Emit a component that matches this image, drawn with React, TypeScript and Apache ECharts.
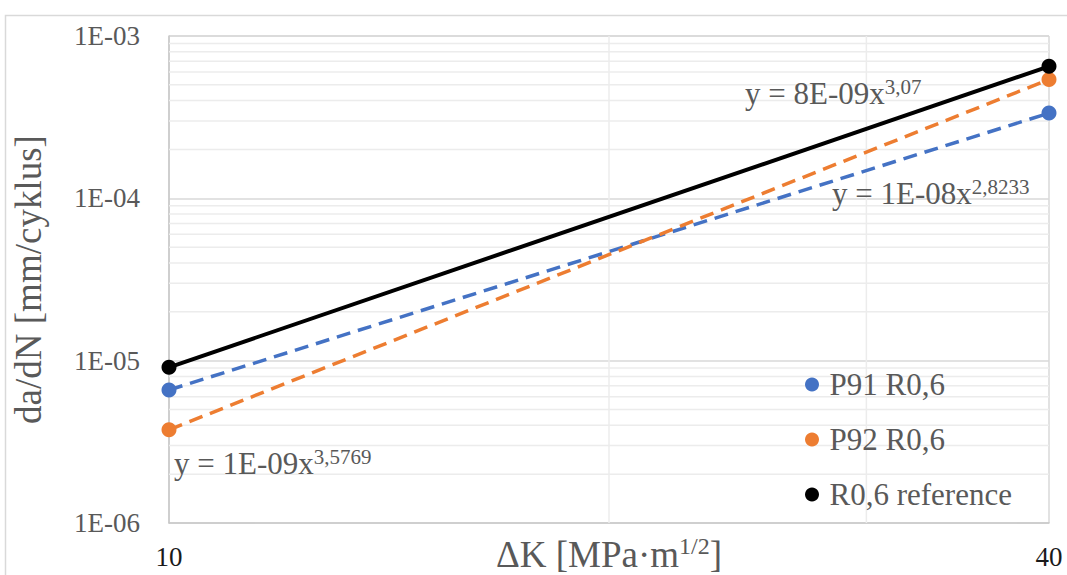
import React, { useEffect, useRef } from 'react';
import * as echarts from 'echarts';

// ---- data ----
const xValues = [10, 40];
const p91Values = [6.6e-6, 3.35e-4];
const p92Values = [3.75e-6, 5.4e-4];
const refValues = [9.1e-6, 6.5e-4];
const seriesNames = ['P91 R0,6', 'P92 R0,6', 'R0,6 reference'];
const seriesColors = ['#4472C4', '#ED7D31', '#000000'];

const yTickValues = [1e-6, 1e-5, 1e-4, 1e-3];
const yTickLabels = ['1E-06', '1E-05', '1E-04', '1E-03'];
const xTickValues = [10, 40];
const xTickLabels = ['10', '40'];
const xMinorGrid = [20, 30];
const yMinorMultipliers = [2, 3, 4, 5, 6, 7, 8, 9];
const yMinorDecades = [1e-6, 1e-5, 1e-4];

const eqRef = { base: 'y = 8E-09x', exp: '3,07' };
const eqP91 = { base: 'y = 1E-08x', exp: '2,8233' };
const eqP92 = { base: 'y = 1E-09x', exp: '3,5769' };

const FONT = "'Liberation Serif', 'Times New Roman', serif";

function matchLabel(v: number, vals: number[], labels: string[]) {
  for (let i = 0; i < vals.length; i++) {
    if (Math.abs(Math.log10(v) - Math.log10(vals[i])) < 1e-6) return labels[i];
  }
  return '';
}

export default function App() {
  const ref = useRef<HTMLDivElement>(null);
  useEffect(() => {
    if (!ref.current) return;
    const chart = echarts.init(ref.current, undefined, { renderer: 'svg' });

    const xMin = xTickValues[0];
    const xMax = xTickValues[xTickValues.length - 1];
    const yMin = yTickValues[0];
    const yMax = yTickValues[yTickValues.length - 1];

    const gridSeries: any[] = [];
    xMinorGrid.forEach((x) =>
      gridSeries.push([[x, yMin], [x, yMax]])
    );
    yMinorDecades.forEach((d) =>
      yMinorMultipliers.forEach((m) => gridSeries.push([[xMin, d * m], [xMax, d * m]]))
    );

    const eqText = (eq: { base: string; exp: string }, x: number, y: number) => ({
      type: 'text',
      x,
      y,
      z: 10,
      style: {
        text: `{b|${eq.base}}{s|${eq.exp}}`,
        align: 'left',
        verticalAlign: 'top',
        rich: {
          b: { fontSize: 31, fontFamily: FONT, fill: '#595959', lineHeight: 34 },
          s: { fontSize: 21, fontFamily: FONT, fill: '#595959', verticalAlign: 'top', lineHeight: 20 },
        },
      },
    });

    const allData = [p91Values, p92Values, refValues];

    chart.setOption({
      animation: false,
      backgroundColor: '#ffffff',
      textStyle: { fontFamily: FONT },
      grid: { left: 169, top: 36, right: 18, bottom: 52, containLabel: false, outerBoundsMode: 'none' },
      legend: {
        orient: 'vertical',
        left: 800,
        top: 364,
        icon: 'circle',
        itemWidth: 25,
        itemHeight: 14,
        itemGap: 24,
        data: seriesNames,
        textStyle: { fontSize: 31, fontFamily: FONT, color: '#595959' },
      },
      xAxis: {
        type: 'log',
        min: xMin,
        max: xMax,
        interval: 1,
        name: 'ΔK [MPa·m{s|1/2}]',
        nameLocation: 'middle',
        nameGap: 11,
        nameMoveOverlap: false,
        nameTextStyle: {
          fontSize: 37,
          fontFamily: FONT,
          color: '#595959',
          verticalAlign: 'top',
          lineHeight: 40,
          rich: {
            s: { fontSize: 24, fontFamily: FONT, color: '#595959', verticalAlign: 'top', lineHeight: 24 },
          },
        },
        axisLine: { show: true, lineStyle: { color: '#c8c8c8', width: 1.5 } },
        axisTick: { show: false },
        axisLabel: {
          fontSize: 27,
          fontFamily: FONT,
          color: '#1a1a1a',
          margin: 20,
          formatter: (v: number) => matchLabel(v, xTickValues, xTickLabels),
        },
        splitLine: { show: true, lineStyle: { color: '#d9d9d9', width: 1.5 } },
      },
      yAxis: {
        type: 'log',
        min: yMin,
        max: yMax,
        interval: 1,
        name: 'da/dN [mm/cyklus]',
        nameLocation: 'middle',
        nameGap: 122,
        nameRotate: 90,
        nameMoveOverlap: false,
        nameTextStyle: { fontSize: 37, fontFamily: FONT, color: '#595959' },
        axisLine: { show: true, lineStyle: { color: '#c8c8c8', width: 1.5 } },
        axisTick: { show: false },
        axisLabel: {
          fontSize: 27,
          fontFamily: FONT,
          color: '#595959',
          margin: 29,
          formatter: (v: number) => matchLabel(v, yTickValues, yTickLabels),
        },
        splitLine: { show: true, lineStyle: { color: '#d9d9d9', width: 1.5 } },
      },
      series: [
        ...gridSeries.map((pts, k) => ({
          name: 'minor-grid-' + k,
          type: 'line',
          data: pts,
          silent: true,
          symbol: 'none',
          z: 1,
          lineStyle: { color: '#ececec', width: 1.5, type: 'solid' },
          emphasis: { disabled: true },
          tooltip: { show: false },
        })),
        ...seriesNames.map((name, i) => ({
          name,
          type: 'line',
          data: xValues.map((x, j) => [x, allData[i][j]]),
          symbol: 'circle',
          symbolSize: 15,
          z: 3 + i,
          itemStyle: { color: seriesColors[i] },
          lineStyle:
            i === 2
              ? { color: seriesColors[i], width: 4, type: 'solid' }
              : { color: seriesColors[i], width: 3.5, type: [14, 8] },
        })),
      ],
      graphic: [
        {
          type: 'rect',
          z: -10,
          shape: { x: 5.5, y: 15.5, width: 1100, height: 600 },
          style: { fill: 'none', stroke: '#d9d9d9', lineWidth: 1.5 },
        },
        eqText(eqRef, 745, 76),
        eqText(eqP91, 832, 176),
        eqText(eqP92, 174, 446),
      ],
    });
    return () => chart.dispose();
  }, []);
  return (
    <div
      ref={ref}
      style={{ position: 'absolute', left: 0, top: 0, width: 1067, height: 575 }}
    />
  );
}
